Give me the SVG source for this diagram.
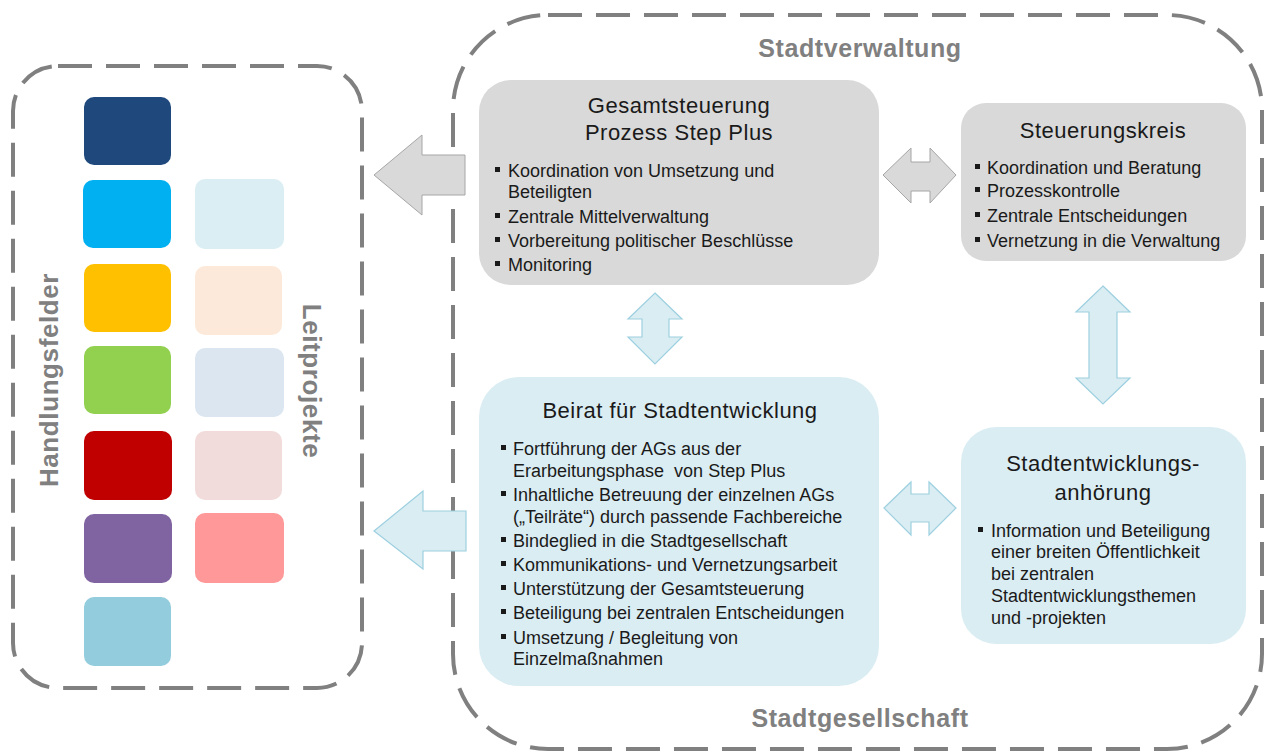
<svg xmlns="http://www.w3.org/2000/svg" width="1270" height="754" viewBox="0 0 1270 754">
  <style>
    .frame { fill: none; stroke: #808080; stroke-width: 4; stroke-dasharray: 34 14; }
    .zone { font-family: "Liberation Sans", Arial, sans-serif; font-weight: bold; font-size: 25px; letter-spacing: 0.6px; fill: #808080; }
    .side { font-family: "Liberation Sans", Arial, sans-serif; font-weight: bold; font-size: 26px; letter-spacing: 0.6px; fill: #808080; }
    .title { font-family: "Liberation Sans", Arial, sans-serif; font-size: 22px; letter-spacing: 0.5px; fill: #1a1a1a; text-anchor: middle; }
    .item { font-family: "Liberation Sans", Arial, sans-serif; font-size: 18px; fill: #1a1a1a; }
    .bullet { fill: #1a1a1a; }
    .grey { fill: #d9d9d9; }
    .blue { fill: #daedf3; }
    .arrow-grey { fill: #d9d9d9; stroke: #a6a6a6; stroke-width: 1; }
    .arrow-blue { fill: #daedf3; stroke: #9dd0e0; stroke-width: 1.2; }
  </style>

  <!-- dashed frames -->
  <rect class="frame" x="13" y="66" width="349" height="622" rx="45"/>
  <rect class="frame" x="453" y="15" width="809" height="734" rx="95"/>
  <text class="zone" x="860" y="57" text-anchor="middle">Stadtverwaltung</text>
  <text class="zone" x="860" y="727" text-anchor="middle">Stadtgesellschaft</text>

  <!-- Handlungsfelder / Leitprojekte -->
  <g id="handlungsfelder">
    <rect x="84" y="97" width="87" height="68" rx="10" fill="#1f497d"/>
    <rect x="83" y="180" width="88" height="68" rx="10" fill="#00b0f0"/>
    <rect x="84" y="264" width="87" height="68" rx="10" fill="#ffc000"/>
    <rect x="84" y="346" width="87" height="68" rx="10" fill="#92d050"/>
    <rect x="84" y="431" width="88" height="69" rx="10" fill="#c00000"/>
    <rect x="84" y="514" width="88" height="69" rx="10" fill="#8064a2"/>
    <rect x="84" y="597" width="87" height="69" rx="10" fill="#93cddd"/>
    <text class="side" transform="translate(58 380) rotate(-90)" text-anchor="middle">Handlungsfelder</text>
  </g>
  <g id="leitprojekte">
    <rect x="195" y="179" width="89" height="70" rx="10" fill="#daeef3"/>
    <rect x="195" y="266" width="87" height="69" rx="10" fill="#fde9d9"/>
    <rect x="195" y="348" width="89" height="69" rx="10" fill="#dce6f1"/>
    <rect x="195" y="431" width="87" height="69" rx="10" fill="#f2dcdb"/>
    <rect x="195" y="513" width="89" height="70" rx="10" fill="#ff9999"/>
    <text class="side" transform="translate(303 381) rotate(90)" text-anchor="middle">Leitprojekte</text>
  </g>

  <!-- connectors -->
  <g id="connectors">
    <polygon class="arrow-grey" points="374,175 422,135 422,155 465,155 465,195 422,195 422,215"/>
    <polygon class="arrow-blue" points="374,531 423,491 423,511 466,511 466,551 423,551 423,569"/>
    <polygon class="arrow-blue" points="655,293 682,319 669,319 669,337 682,337 655,364 628,337 642,337 642,319 628,319"/>
    <polygon class="arrow-grey" points="883,175 911,148 911,162 930,162 930,148 956,175 930,203 930,191 911,191 911,203"/>
    <polygon class="arrow-blue" points="1103,286 1130,312 1117,312 1117,378 1130,378 1103,404 1076,378 1089,378 1089,312 1076,312"/>
    <polygon class="arrow-blue" points="884,508 911,482 911,494 929,494 929,482 956,508 929,535 929,522 911,522 911,535"/>
  </g>

  <!-- Gesamtsteuerung -->
  <g id="gesamtsteuerung">
    <rect class="grey" x="479" y="80" width="400" height="205" rx="32"/>
    <text class="title" x="679" y="113">Gesamtsteuerung</text>
    <text class="title" x="679" y="140">Prozess Step Plus</text>
    <rect class="bullet" x="495" y="167" width="5" height="5"/>
    <text class="item" x="508" y="177">Koordination von Umsetzung und</text>
    <text class="item" x="508" y="198">Beteiligten</text>
    <rect class="bullet" x="495" y="213" width="5" height="5"/>
    <text class="item" x="508" y="223">Zentrale Mittelverwaltung</text>
    <rect class="bullet" x="495" y="237" width="5" height="5"/>
    <text class="item" x="508" y="247">Vorbereitung politischer Beschlüsse</text>
    <rect class="bullet" x="495" y="261" width="5" height="5"/>
    <text class="item" x="508" y="271">Monitoring</text>
  </g>

  <!-- Steuerungskreis -->
  <g id="steuerungskreis">
    <rect class="grey" x="961" y="103" width="285" height="158" rx="25"/>
    <text class="title" x="1103" y="138">Steuerungskreis</text>
    <rect class="bullet" x="975" y="164" width="5" height="5"/>
    <text class="item" x="987" y="174">Koordination und Beratung</text>
    <rect class="bullet" x="975" y="187" width="5" height="5"/>
    <text class="item" x="987" y="197">Prozesskontrolle</text>
    <rect class="bullet" x="975" y="212" width="5" height="5"/>
    <text class="item" x="987" y="222">Zentrale Entscheidungen</text>
    <rect class="bullet" x="975" y="237" width="5" height="5"/>
    <text class="item" x="987" y="247">Vernetzung in die Verwaltung</text>
  </g>

  <!-- Beirat für Stadtentwicklung -->
  <g id="beirat">
    <rect class="blue" x="479" y="377" width="400" height="309" rx="40"/>
    <text class="title" x="680" y="418">Beirat für Stadtentwicklung</text>
    <rect class="bullet" x="501" y="445" width="5" height="5"/>
    <text class="item" x="513" y="455">Fortführung der AGs aus der</text>
    <text class="item" x="513" y="477" xml:space="preserve">Erarbeitungsphase  von Step Plus</text>
    <rect class="bullet" x="501" y="491" width="5" height="5"/>
    <text class="item" x="513" y="501">Inhaltliche Betreuung der einzelnen AGs</text>
    <text class="item" x="513" y="523">(„Teilräte“) durch passende Fachbereiche</text>
    <rect class="bullet" x="501" y="537" width="5" height="5"/>
    <text class="item" x="513" y="547">Bindeglied in die Stadtgesellschaft</text>
    <rect class="bullet" x="501" y="561" width="5" height="5"/>
    <text class="item" x="513" y="571">Kommunikations- und Vernetzungsarbeit</text>
    <rect class="bullet" x="501" y="585" width="5" height="5"/>
    <text class="item" x="513" y="595">Unterstützung der Gesamtsteuerung</text>
    <rect class="bullet" x="501" y="609" width="5" height="5"/>
    <text class="item" x="513" y="619">Beteiligung bei zentralen Entscheidungen</text>
    <rect class="bullet" x="501" y="634" width="5" height="5"/>
    <text class="item" x="513" y="644">Umsetzung / Begleitung von</text>
    <text class="item" x="513" y="665">Einzelmaßnahmen</text>
  </g>

  <!-- Stadtentwicklungsanhörung -->
  <g id="anhoerung">
    <rect class="blue" x="961" y="427" width="285" height="217" rx="35"/>
    <text class="title" x="1103" y="471">Stadtentwicklungs-</text>
    <text class="title" x="1103" y="500">anhörung</text>
    <rect class="bullet" x="978" y="527" width="5" height="5"/>
    <text class="item" x="991" y="537">Information und Beteiligung</text>
    <text class="item" x="991" y="558">einer breiten Öffentlichkeit</text>
    <text class="item" x="991" y="580">bei zentralen</text>
    <text class="item" x="991" y="602">Stadtentwicklungsthemen</text>
    <text class="item" x="991" y="624">und -projekten</text>
  </g>
</svg>
